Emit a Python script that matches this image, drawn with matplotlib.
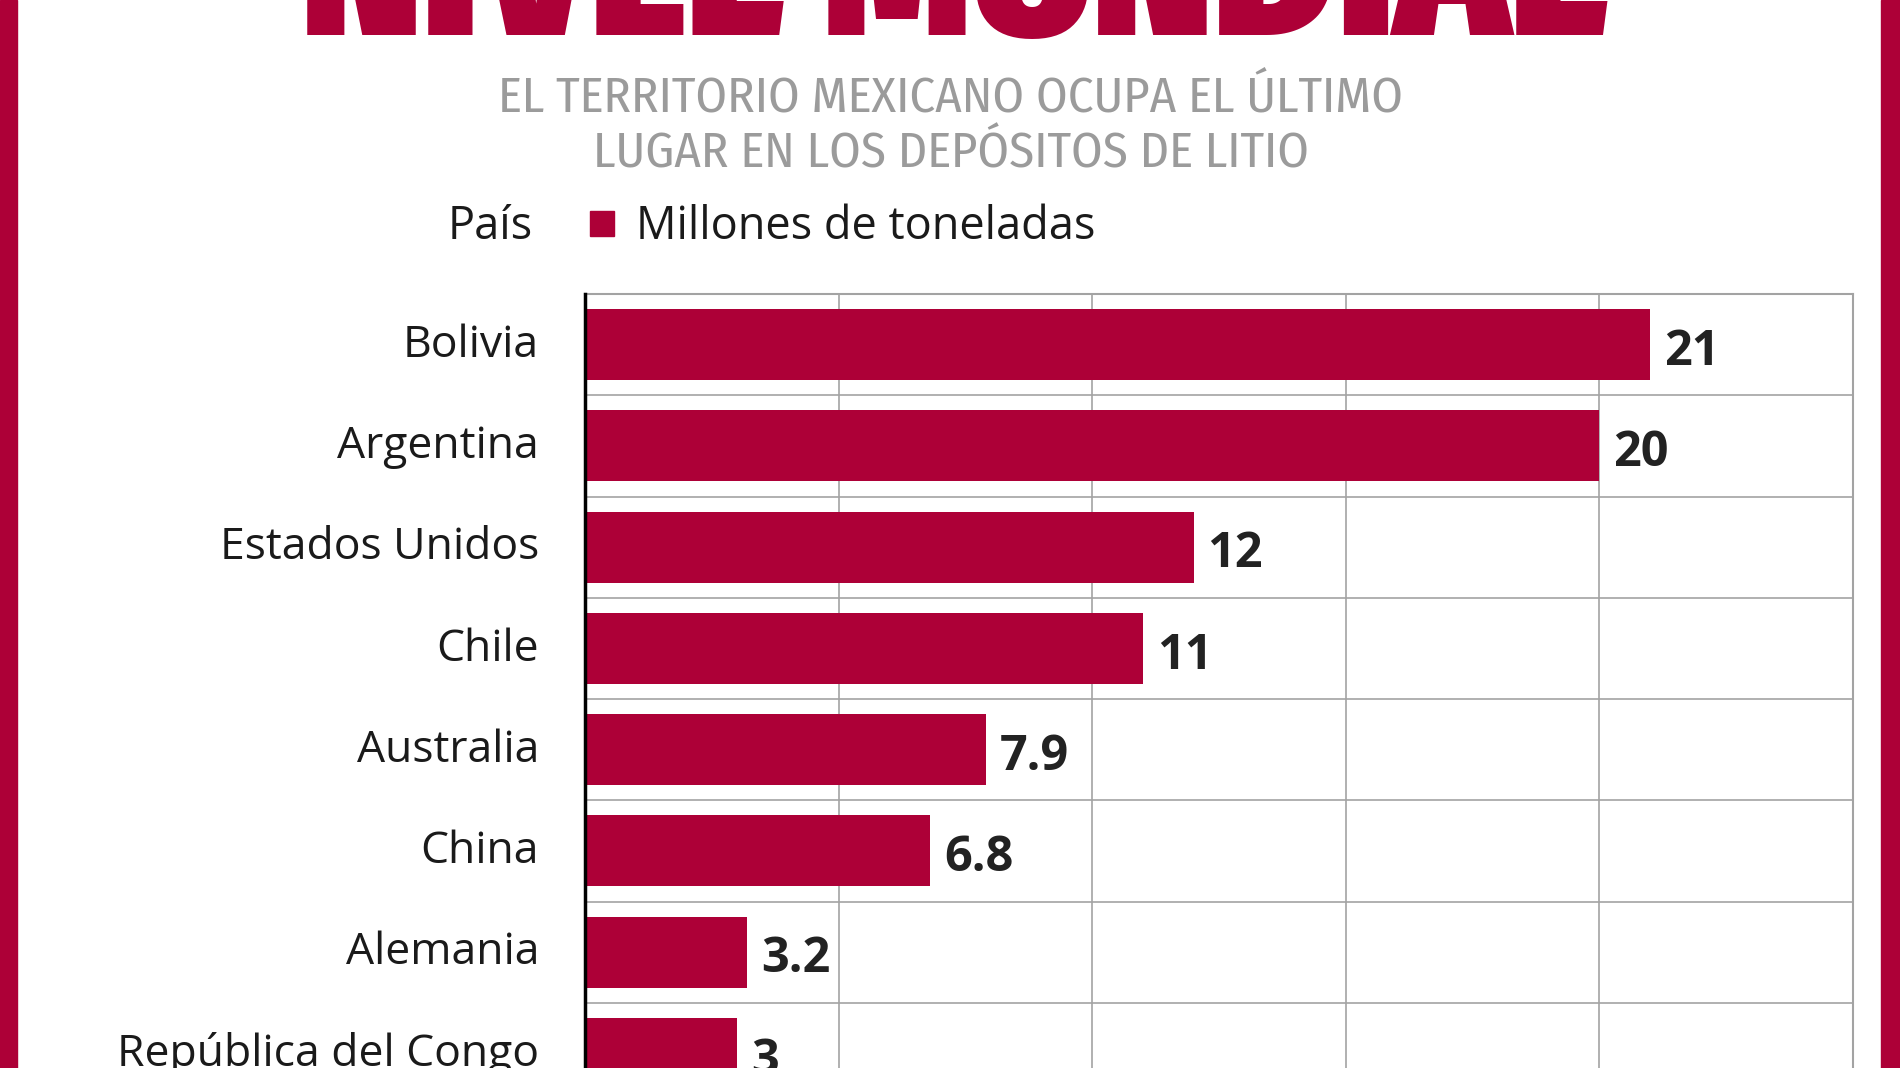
import matplotlib
matplotlib.use('Agg')
import matplotlib.pyplot as plt
import matplotlib.transforms as mtransforms
from matplotlib.patches import Rectangle

# datos (millones de toneladas de litio)
paises = ['Bolivia', 'Argentina', 'Estados Unidos', 'Chile', 'Australia',
          'China', 'Alemania', 'República del Congo']
valores = [21, 20, 12, 11, 7.9, 6.8, 3.2, 3]
etiquetas = ['21', '20', '12', '11', '7.9', '6.8', '3.2', '3']

ROJO = '#ad0037'
GRIS = '#a3a3a3'
W, H = 1900, 1068


def fx(px):
    return px / W


def fy(py):
    return 1 - py / H


fig = plt.figure(figsize=(W / 100, H / 100), dpi=100)
fig.patch.set_facecolor('white')

# red side borders
fig.patches.append(Rectangle((0, 0), fx(17), 1, transform=fig.transFigure,
                             color=ROJO, zorder=0))
fig.patches.append(Rectangle((fx(1881), 0), fx(19), 1, transform=fig.transFigure,
                             color=ROJO, zorder=0))

# title (cut at top of image)
fig.text(fx(954), fy(35), 'NIVEL MUNDIAL', ha='center', va='baseline',
         fontsize=161, fontweight='black', color=ROJO,
         family=['Fira Sans Extra Condensed', 'DejaVu Sans'])

# subtitle
sub_kw = dict(ha='center', va='baseline', fontsize=36.5, color='#9b9b9b',
              family=['Fira Sans Condensed', 'DejaVu Sans'])
fig.text(fx(951), fy(112), 'EL TERRITORIO MEXICANO OCUPA EL ÚLTIMO', **sub_kw)
fig.text(fx(951), fy(167), 'LUGAR EN LOS DEPÓSITOS DE LITIO', **sub_kw)

# legend row
leg_kw = dict(va='baseline', fontsize=32.5, color='#1a1a1a',
              family=['Open Sans', 'DejaVu Sans'])
fig.text(fx(533), fy(239), 'País', ha='right', **leg_kw)
fig.patches.append(Rectangle((fx(590), fy(236)), fx(24), 25 / H,
                             transform=fig.transFigure, color=ROJO))
fig.text(fx(636), fy(239), 'Millones de toneladas', ha='left', **leg_kw)

# chart area extends beyond the bottom of the picture
ax = fig.add_axes([fx(585), fy(1104), fx(1853 - 585), 810 / H])
pos = list(range(len(paises)))
ax.barh(pos, valores, height=0.7, color=ROJO, zorder=3)

ax.set_xlim(0, 25)
ax.set_ylim(len(paises) - 0.5, -0.5)
ax.set_xticks([5, 10, 15, 20])
ax.set_yticks([p + 0.5 for p in pos[:-1]])
ax.grid(True, color=GRIS, linewidth=1.2, zorder=0)
ax.tick_params(length=0, labelbottom=False, labelleft=False)
for s in ['top', 'right', 'bottom']:
    ax.spines[s].set_color(GRIS)
    ax.spines[s].set_linewidth(1.5)
ax.spines['left'].set_color('black')
ax.spines['left'].set_linewidth(2.5)
ax.spines['left'].set_zorder(4)

# country names
trans = mtransforms.blended_transform_factory(fig.transFigure, ax.transData)
for p, nombre in zip(pos, paises):
    ax.text(fx(539), p + 0.12, nombre, transform=trans, ha='right',
            va='baseline', fontsize=32, color='#1a1a1a',
            family=['Open Sans', 'DejaVu Sans'], clip_on=False)

# value labels
for p, v, lab in zip(pos, valores, etiquetas):
    ax.annotate(lab, xy=(v, p + 0.2), xytext=(10, 0), textcoords='offset points',
                ha='left', va='baseline', fontsize=35, fontweight='bold',
                color='#222222', family=['Open Sans', 'DejaVu Sans'],
                annotation_clip=False)

fig.savefig('out.png', dpi=100)
